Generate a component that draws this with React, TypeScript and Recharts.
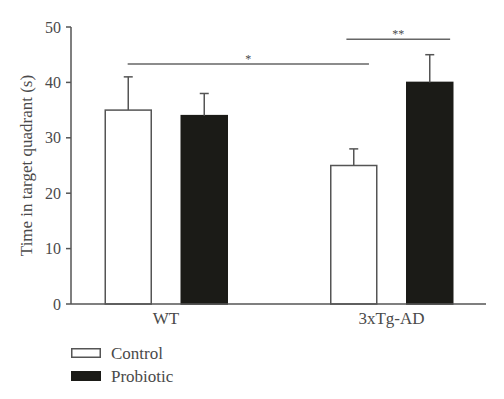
import {
  BarChart,
  Bar,
  XAxis,
  YAxis,
  Legend,
  ReferenceLine,
} from "recharts";

// values (mean, upper SEM)
const groups = ["WT", "3xTg-AD"];
const controlMeans = [35, 25];
const controlErrors = [6, 3];
const probioticMeans = [34, 40];
const probioticErrors = [4, 5];
const yTicks = [0, 10, 20, 30, 40, 50];

// significance brackets, x in group units (0 = WT, 1 = 3xTg-AD)
const sigFrom = [-0.17, 0.8];
const sigTo = [0.9, 1.26];
const sigLevel = [43.3, 47.8];
const sigMarks = ["*", "**"];

const seriesNames = ["Control", "Probiotic"];

const FONT = "Liberation Serif, serif";
const INK = "#4a4a4a";
const LINE = "#555";
const BAR_BLACK = "#1b1b17";

const data = groups.map((g, i) => ({
  group: g,
  pos: i,
  control: controlMeans[i],
  controlErr: controlErrors[i],
  probiotic: probioticMeans[i],
  probioticErr: probioticErrors[i],
}));

const xPad = { left: -17.75, right: -18.25 };

// bar + one-sided (upward) error whisker; whisker length uses the bar's own px/unit
const whiskerBar =
  (errKey: string, fill: string, stroke: string) => (props: any) => {
    const { x, y, width, height, value, payload } = props;
    const perUnit = value ? height / value : 0;
    const top = y - payload[errKey] * perUnit;
    const cx = x + width / 2;
    return (
      <g>
        <rect
          x={x}
          y={y}
          width={width}
          height={height}
          fill={fill}
          stroke={stroke}
          strokeWidth={1.5}
        />
        <line x1={cx} y1={y} x2={cx} y2={top} stroke={LINE} strokeWidth={1.5} />
        <line
          x1={cx - 4.5}
          y1={top}
          x2={cx + 4.5}
          y2={top}
          stroke={LINE}
          strokeWidth={1.5}
        />
      </g>
    );
  };

const LegendBox = () => (
  <div>
    {seriesNames.map((name, i) => (
      <svg
        key={name}
        width={130}
        height={23}
        style={{ display: "block" }}
      >
        <rect
          x={0.75}
          y={6.75}
          width={28.5}
          height={8.5}
          fill={i === 0 ? "#fff" : BAR_BLACK}
          stroke={i === 0 ? LINE : BAR_BLACK}
          strokeWidth={1.5}
        />
        <text
          x={40}
          y={17}
          fill={INK}
          fontFamily={FONT}
          fontSize={17}
        >
          {name}
        </text>
      </svg>
    ))}
  </div>
);

export default function App() {
  return (
    <div style={{ position: "absolute", left: 0, top: 0, background: "#fff" }}>
      <BarChart
        width={504}
        height={399}
        data={data}
        margin={{ top: 27, right: 18, left: 0, bottom: 11 }}
        barSize={46}
        barGap={30}
      >
        <XAxis
          dataKey="group"
          padding={xPad}
          height={38}
          tickLine={false}
          axisLine={{ stroke: LINE, strokeWidth: 1.5 }}
          tick={{ fill: INK, fontFamily: FONT, fontSize: 17 }}
        />
        <XAxis
          xAxisId="sig"
          dataKey="pos"
          type="number"
          domain={[-0.5, 1.5]}
          allowDataOverflow
          padding={xPad}
          orientation="top"
          height={0}
          tick={false}
          axisLine={false}
          tickLine={false}
        />
        <YAxis
          width={71}
          domain={[0, 50]}
          ticks={yTicks}
          tickSize={5}
          tickMargin={5}
          axisLine={{ stroke: LINE, strokeWidth: 1.5 }}
          tickLine={{ stroke: LINE, strokeWidth: 1.5 }}
          tick={{ fill: INK, fontFamily: FONT, fontSize: 16 }}
          label={{
            value: "Time in target quadrant (s)",
            angle: -90,
            position: "center",
            dx: -10,
            fill: INK,
            fontFamily: FONT,
            fontSize: 17,
          }}
        />
        <Bar
          dataKey="control"
          name={seriesNames[0]}
          fill="#fff"
          stroke={LINE}
          shape={whiskerBar("controlErr", "#fff", LINE)}
          isAnimationActive={false}
        />
        <Bar
          dataKey="probiotic"
          name={seriesNames[1]}
          fill={BAR_BLACK}
          shape={whiskerBar("probioticErr", BAR_BLACK, BAR_BLACK)}
          isAnimationActive={false}
        />
        {sigMarks.map((mark, i) => (
          <ReferenceLine
            key={mark}
            xAxisId="sig"
            segment={[
              { x: sigFrom[i], y: sigLevel[i] },
              { x: sigTo[i], y: sigLevel[i] },
            ]}
            stroke="#666"
            strokeWidth={1.5}
            ifOverflow="visible"
            label={{
              value: mark,
              position: "top",
              offset: 1,
              fill: INK,
              fontFamily: FONT,
              fontSize: 12,
            }}
          />
        ))}
        <Legend
          verticalAlign="bottom"
          align="left"
          layout="horizontal"
          wrapperStyle={{ left: 71, bottom: 11, width: "auto", height: 46 }}
          content={() => <LegendBox />}
        />
      </BarChart>
    </div>
  );
}
